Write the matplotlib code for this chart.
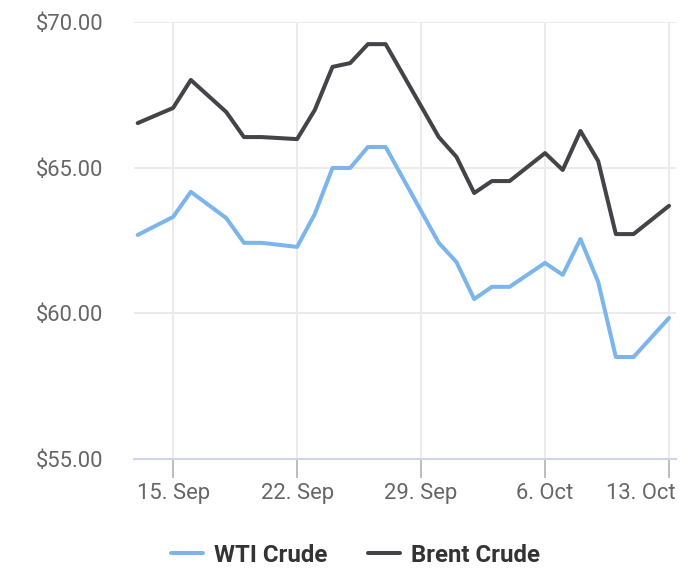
import pandas as pd
import matplotlib
matplotlib.use("Agg")
import matplotlib.pyplot as plt
from matplotlib.transforms import ScaledTranslation

# ------------------- data ----------------------------------------- #
DATES = ["2019-09-13", "2019-09-15", "2019-09-16", "2019-09-18", "2019-09-19",
         "2019-09-20", "2019-09-22", "2019-09-23", "2019-09-24", "2019-09-25",
         "2019-09-26", "2019-09-27", "2019-09-30", "2019-10-01", "2019-10-02",
         "2019-10-03", "2019-10-04", "2019-10-06", "2019-10-07", "2019-10-08",
         "2019-10-09", "2019-10-10", "2019-10-11", "2019-10-13"]

WTI = [62.69, 63.31, 64.17, 63.27, 62.42, 62.42, 62.28, 63.41, 64.99, 64.99,
       65.71, 65.71, 62.42, 61.76, 60.49, 60.91, 60.91, 61.73, 61.32, 62.55,
       61.08, 58.50, 58.50, 59.84]

BRENT = [66.53, 67.05, 68.01, 66.91, 66.05, 66.05, 65.98, 66.98, 68.46, 68.59,
         69.24, 69.24, 66.05, 65.37, 64.13, 64.54, 64.54, 65.50, 64.92, 66.26,
         65.23, 62.72, 62.72, 63.69]

XTICKS = ["2019-09-15", "2019-09-22", "2019-09-29", "2019-10-06", "2019-10-13"]
XTICK_LABELS = ["15. Sep", "22. Sep", "29. Sep", "6. Oct", "13. Oct"]
YTICKS = [55, 60, 65, 70]

# ------------------- style ---------------------- #
WTI_COLOR = "#7cb5ec"
BRENT_COLOR = "#434348"
GRID_COLOR = "#ebebeb"
AXIS_COLOR = "#ccd6eb"
LABEL_COLOR = "#666666"
LEGEND_COLOR = "#333333"
FONT = "Roboto"

plt.rcParams["font.family"] = [FONT, "DejaVu Sans"]

dates = pd.to_datetime(DATES)
xt = pd.to_datetime(XTICKS)

fig = plt.figure(figsize=(7.0, 5.84), dpi=100)
ax = fig.add_axes([134 / 700, 1 - 459 / 584, (676 - 134) / 700, (459 - 22) / 584])

l1, = ax.plot(dates, WTI, color=WTI_COLOR, lw=2.9, solid_joinstyle="round",
              solid_capstyle="round", label="WTI Crude", zorder=3)
l2, = ax.plot(dates, BRENT, color=BRENT_COLOR, lw=2.9, solid_joinstyle="round",
              solid_capstyle="round", label="Brent Crude", zorder=4)

x0 = pd.Timestamp("2019-09-13") - pd.Timedelta(hours=5)
x1 = pd.Timestamp("2019-10-13") + pd.Timedelta(hours=9.5)
ax.set_xlim(x0, x1)
ax.set_ylim(55, 70)

ax.set_xticks(xt)
ax.set_xticklabels(XTICK_LABELS)
ax.set_yticks(YTICKS)
ax.set_yticklabels([f"${v:.2f}" for v in YTICKS])

ax.grid(True, color=GRID_COLOR, lw=1.4, zorder=0)
ax.set_axisbelow(True)

for s in ["top", "right", "left"]:
    ax.spines[s].set_visible(False)
ax.spines["bottom"].set_color(AXIS_COLOR)
ax.spines["bottom"].set_linewidth(1.5)
ax.spines["bottom"].set_zorder(5)

ax.tick_params(axis="y", length=0, pad=22, labelsize=15.8, labelcolor=LABEL_COLOR)
ax.tick_params(axis="x", length=13.5, width=1.4, color="#bdbdbd", pad=3.5,
               labelsize=15.8, labelcolor=LABEL_COLOR)

# last label is pushed inside the chart edge
last = ax.get_xticklabels()[-1]
last.set_horizontalalignment("right")
last.set_transform(last.get_transform() + ScaledTranslation(7 / 100, 0, fig.dpi_scale_trans))

leg = fig.legend(handles=[l1, l2], loc="center", bbox_to_anchor=(0.5079, 1 - 555 / 584),
                 ncol=2, frameon=False, handlelength=1.33, handletextpad=0.46,
                 columnspacing=1.66, prop={"family": FONT, "weight": "bold", "size": 17.3})
for t in leg.get_texts():
    t.set_color(LEGEND_COLOR)

fig.savefig("out.png", dpi=100)
